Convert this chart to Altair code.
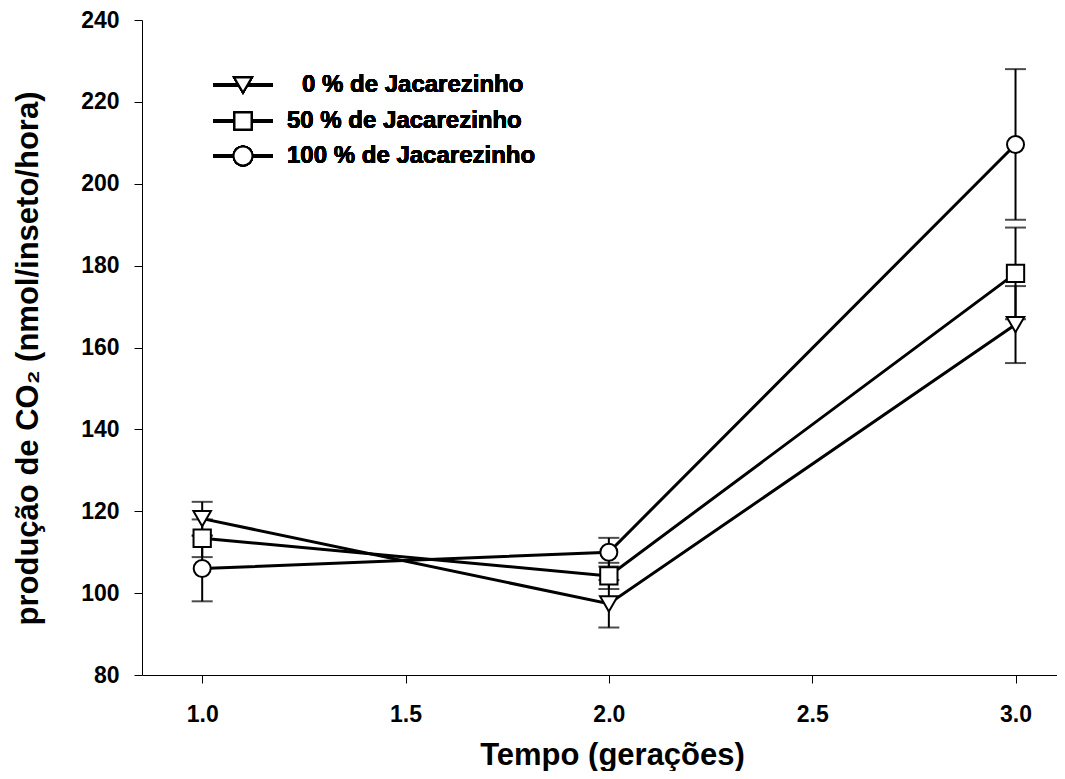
import altair as alt
import pandas as pd

# ---------------- data ----------------
tempo = [1.0, 2.0, 3.0]
series = ["0 % de Jacarezinho", "50 % de Jacarezinho", "100 % de Jacarezinho"]
mean_0 = [118.2, 97.4, 165.6]
err_0 = [4.1, 5.8, 9.4]
mean_50 = [113.4, 104.2, 178.1]
err_50 = [4.6, 3.2, 11.2]
mean_100 = [106.0, 110.0, 209.6]
err_100 = [8.0, 3.5, 18.4]
legend_labels = ["0 % de Jacarezinho", "50 % de Jacarezinho", "100 % de Jacarezinho"]
x_ticks = [1.0, 1.5, 2.0, 2.5, 3.0]
y_ticks = [80, 100, 120, 140, 160, 180, 200, 220, 240]

# ---------------- styles / layout ----------------
FONT = "Liberation Sans"
shapes = ["triangle-down", "square", "circle"]
sizes = [310, 289, 361]
LEG_LINE_X = (71, 131)
LEG_SYM_X = 101
LEG_TEXT_X = [160, 145, 145]
LEG_ROW_Y = [65, 101, 136]

rows = []
for name, m, e in zip(series, [mean_0, mean_50, mean_100], [err_0, err_50, err_100]):
    for t, mv, ev in zip(tempo, m, e):
        rows.append({"serie": name, "tempo": t, "media": mv, "lo": mv - ev, "hi": mv + ev})
df = pd.DataFrame(rows)

xscale = alt.Scale(domain=[0.852, 3.102], nice=False, zero=False)
yscale = alt.Scale(domain=[80, 240], nice=False, zero=False)
shape_scale = alt.Scale(domain=series, range=shapes)
size_scale = alt.Scale(domain=series, range=sizes)

X = alt.X("tempo:Q", scale=xscale,
          axis=alt.Axis(values=x_ticks, format=".1f", title="Tempo (gerações)",
                        labelPadding=20, titleX=470, titleY=89,
                        titleAlign="center", titleBaseline="alphabetic"))
Y = alt.Y("media:Q", scale=yscale,
          axis=alt.Axis(values=y_ticks, title="produção de CO₂ (nmol/inseto/hora)",
                        labelPadding=15, titleX=-105, titleY=338, titleAngle=270,
                        titleAlign="center", titleBaseline="alphabetic"))

base = alt.Chart(df)

lines = base.mark_line(color="black", strokeWidth=3).encode(x=X, y=Y, detail="serie:N")
bars = base.mark_rule(color="black", strokeWidth=2).encode(
    x=alt.X("tempo:Q", scale=xscale), y=alt.Y("lo:Q", scale=yscale), y2="hi:Q")
cap_hi = base.mark_tick(color="black", thickness=2, size=21, orient="horizontal").encode(
    x=alt.X("tempo:Q", scale=xscale), y=alt.Y("hi:Q", scale=yscale))
cap_lo = base.mark_tick(color="black", thickness=2, size=21, orient="horizontal").encode(
    x=alt.X("tempo:Q", scale=xscale), y=alt.Y("lo:Q", scale=yscale))
points = base.mark_point(filled=True, fill="white", stroke="black", strokeWidth=2,
                         opacity=1, fillOpacity=1).encode(
    x=alt.X("tempo:Q", scale=xscale), y=alt.Y("media:Q", scale=yscale),
    shape=alt.Shape("serie:N", scale=shape_scale, legend=None),
    size=alt.Size("serie:N", scale=size_scale, legend=None))

legend_layers = []
for lab, shp, sz, ly, tx in zip(legend_labels, shapes, sizes, LEG_ROW_Y, LEG_TEXT_X):
    legend_layers.append(
        alt.Chart(df).mark_rule(color="black", strokeWidth=3).encode(
            x=alt.value(LEG_LINE_X[0]), x2=alt.value(LEG_LINE_X[1]), y=alt.value(ly)))
    legend_layers.append(
        alt.Chart(df).mark_point(shape=shp, size=sz, filled=True, fill="white",
                                 stroke="black", strokeWidth=2, opacity=1).encode(
            x=alt.value(LEG_SYM_X), y=alt.value(ly)))
    legend_layers.append(
        alt.Chart(df).mark_text(text=lab, align="left", baseline="middle", font=FONT,
                                fontSize=24, fontWeight="bold", color="black").encode(
            x=alt.value(tx), y=alt.value(ly)))

chart = alt.layer(lines, bars, cap_hi, cap_lo, points, *legend_layers).properties(
    width=915, height=655,
    autosize=alt.AutoSizeParams(type="none"),
    padding={"left": 134, "top": 12, "right": 0, "bottom": 96},
).configure_view(stroke=None).configure_axis(
    domainColor="black", tickColor="black", labelColor="black", titleColor="black",
    labelFont=FONT, titleFont=FONT, labelFontWeight="bold", titleFontWeight="bold",
    labelFontSize=23, titleFontSize=31, tickSize=8, grid=False,
    domainWidth=1, tickWidth=1,
)

chart.save("out.html", embed_options={"renderer": "svg", "actions": False})
